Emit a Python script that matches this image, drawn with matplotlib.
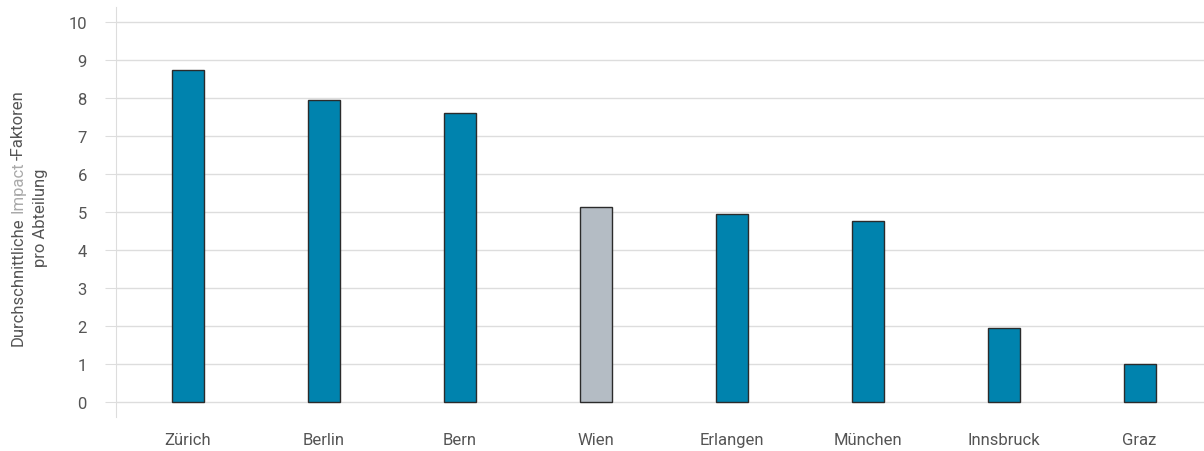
import matplotlib.pyplot as plt
import numpy as np

# data
cities = ['Zürich', 'Berlin', 'Bern', 'Wien', 'Erlangen', 'München', 'Innsbruck', 'Graz']
impact = [8.73, 7.95, 7.6, 5.12, 4.95, 4.75, 1.95, 1.0]
highlight = 'Wien'

blue = '#0083ae'
grey = '#b4bcc4'
text_col = '#555555'
grid_col = '#dddddd'
fs = 12

plt.rcParams['font.family'] = ['Roboto', 'DejaVu Sans']

fig = plt.figure(figsize=(12.04, 4.52), dpi=100)
ax = fig.add_axes([116 / 1204, 1 - 418 / 452, 1088 / 1204, 410 / 452])

x = np.arange(len(cities))
colors = [grey if c == highlight else blue for c in cities]
ax.bar(x, impact, width=0.235, color=colors, edgecolor='#2b2b2b', linewidth=1, zorder=3)

ax.set_xlim(-0.526, len(cities) - 0.526)
ax.set_ylim(-0.4, 10.4)
ax.set_yticks(range(0, 11))
ax.set_xticks(x)
ax.set_xticklabels(cities)

ax.yaxis.grid(True, color=grid_col, linewidth=1, zorder=0)
for s in ['top', 'right', 'bottom']:
    ax.spines[s].set_visible(False)
ax.spines['left'].set_color(grid_col)
ax.tick_params(axis='y', length=8, color=grid_col, pad=13, labelsize=fs, labelcolor=text_col)
ax.tick_params(axis='x', length=0, pad=11, labelsize=fs, labelcolor=text_col)

# y label, two lines, "Impact" in a lighter grey
fig.canvas.draw()
renderer = fig.canvas.get_renderer()


def text_len(s):
    t = fig.text(0, 0, s, rotation=90, fontsize=fs, transform=None)
    h = t.get_window_extent(renderer).height
    t.remove()
    return h


space = text_len('D D') - text_len('DD')
center_y = (1 - 218 / 452) * fig.bbox.height
parts = [('Durchschnittliche', text_col, space), ('Impact', '#aaaaaa', 1), ('-Faktoren', text_col, 0)]
line1_x = 18
texts = [fig.text(0, 0, p, rotation=90, fontsize=fs, color=c, ha='center', va='bottom',
                  transform=None) for p, c, _ in parts]
steps = [t.get_window_extent(renderer).height + g for t, (_, _, g) in zip(texts, parts)]
y = center_y - sum(steps) / 2
for t, h in zip(texts, steps):
    t.set_position((line1_x, y))
    y += h
fig.text(41, center_y, 'pro Abteilung', rotation=90, fontsize=fs, color=text_col,
         ha='center', va='center', transform=None)

fig.savefig('out.png', dpi=100)
